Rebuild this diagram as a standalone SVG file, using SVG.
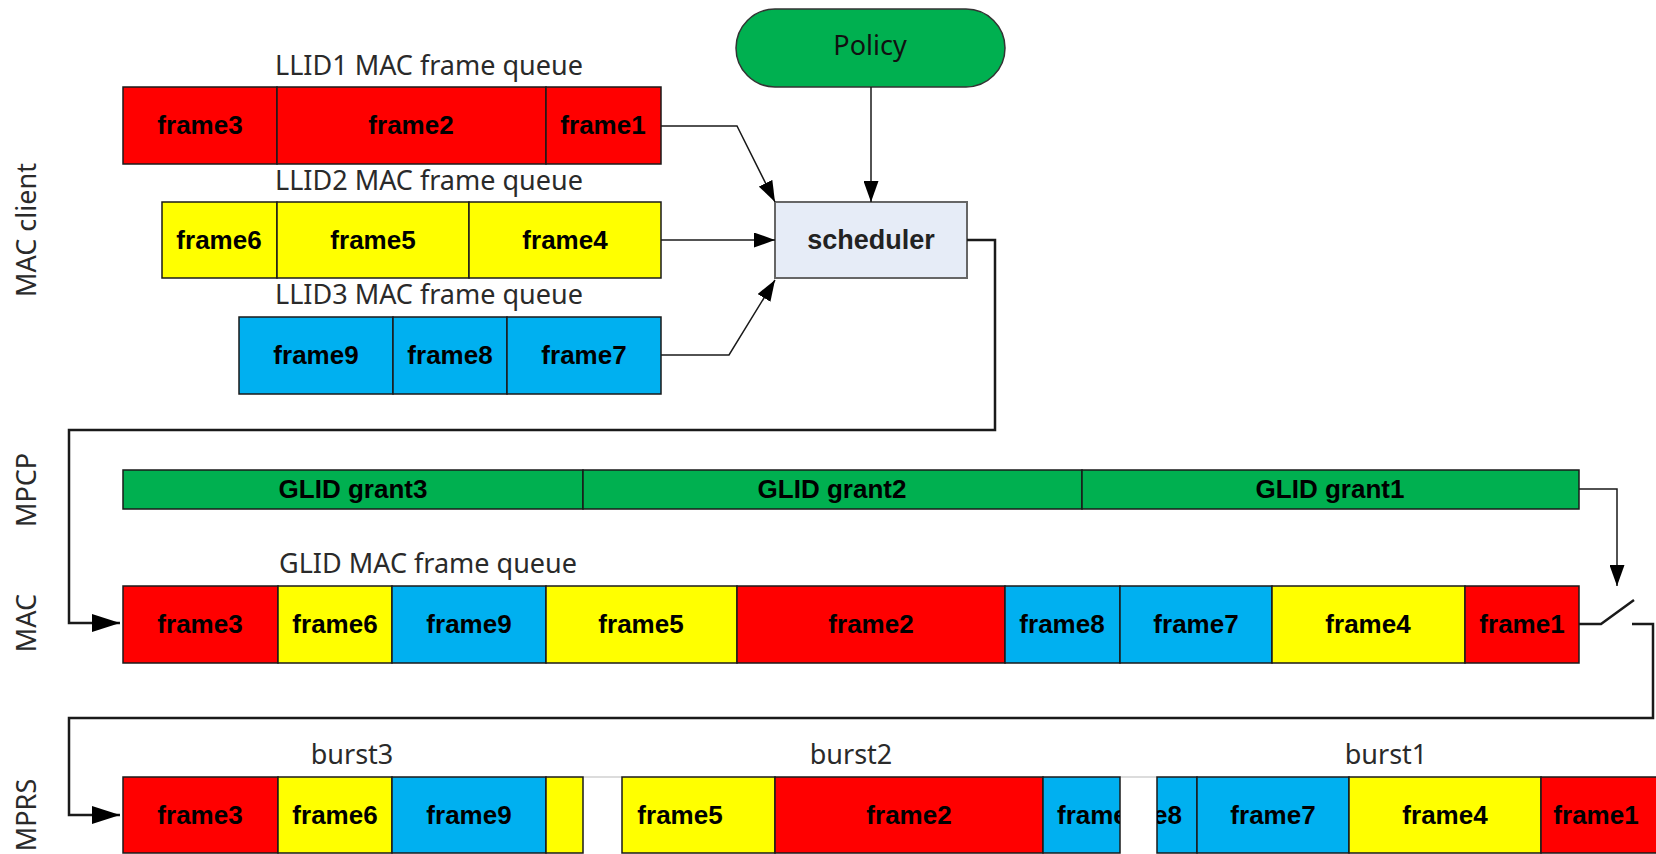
<svg xmlns="http://www.w3.org/2000/svg" width="1656" height="854" viewBox="0 0 1656 854">
<style>
.r{fill:#FF0000}.y{fill:#FFFF00}.b{fill:#00B0F0}.g{fill:#00B050}
.cell{stroke:#1a1a1a;stroke-width:1.5}
.ft{font-family:"Liberation Sans",Arial,sans-serif;font-weight:bold;font-size:26px;text-anchor:middle;fill:#000}
.lbl{font-family:"Noto Sans","Liberation Sans",sans-serif;font-size:27px;fill:#2a2a2a;text-anchor:middle}
.ln{fill:none;stroke:#1a1a1a;stroke-width:1.5}
.thk{fill:none;stroke:#1a1a1a;stroke-width:2.5}
</style>
<defs>
<marker id="ah" markerUnits="userSpaceOnUse" markerWidth="21" markerHeight="15" refX="21" refY="7.5" orient="auto"><path d="M0,0 L21,7.5 L0,15 z" fill="#000"/></marker>
<marker id="ahb" markerUnits="userSpaceOnUse" markerWidth="28" markerHeight="18" refX="28" refY="9" orient="auto"><path d="M0,0 L28,9 L0,18 z" fill="#000"/></marker>
<clipPath id="c8a"><rect x="1043" y="777" width="77" height="77"/></clipPath>
<clipPath id="c8b"><rect x="1157" y="777" width="40" height="77"/></clipPath>
</defs>
<rect width="1656" height="854" fill="#fff"/>

<g id="layer-labels">
<text class="lbl" transform="translate(36,230) rotate(-90)">MAC client</text>
<text class="lbl" transform="translate(36,490) rotate(-90)">MPCP</text>
<text class="lbl" transform="translate(36,623) rotate(-90)">MAC</text>
<text class="lbl" transform="translate(36,815) rotate(-90)">MPRS</text>
</g>

<g id="policy">
<rect x="736" y="9" width="269" height="78" rx="39" fill="#00B050" stroke="#333" stroke-width="1.5"/>
<text class="lbl" x="870" y="55" style="fill:#111">Policy</text>
</g>

<g id="scheduler">
<rect x="775" y="202" width="192" height="76" fill="#E6ECF7" stroke="#666" stroke-width="2"/>
<text class="ft" x="871" y="249" style="font-size:27px;fill:#222">scheduler</text>
</g>

<g id="llid1-queue">
<text class="lbl" x="429" y="75">LLID1 MAC frame queue</text>
<rect class="cell r" x="123" y="87" width="154" height="77"/>
<rect class="cell r" x="277" y="87" width="269" height="77"/>
<rect class="cell r" x="546" y="87" width="115" height="77"/>
<text class="ft" x="200" y="134">frame3</text>
<text class="ft" x="411" y="134">frame2</text>
<text class="ft" x="603" y="134">frame1</text>
</g>

<g id="llid2-queue">
<text class="lbl" x="429" y="190">LLID2 MAC frame queue</text>
<rect class="cell y" x="162" y="202" width="115" height="76"/>
<rect class="cell y" x="277" y="202" width="192" height="76"/>
<rect class="cell y" x="469" y="202" width="192" height="76"/>
<text class="ft" x="219" y="249">frame6</text>
<text class="ft" x="373" y="249">frame5</text>
<text class="ft" x="565" y="249">frame4</text>
</g>

<g id="llid3-queue">
<text class="lbl" x="429" y="304">LLID3 MAC frame queue</text>
<rect class="cell b" x="239" y="317" width="154" height="77"/>
<rect class="cell b" x="393" y="317" width="114" height="77"/>
<rect class="cell b" x="507" y="317" width="154" height="77"/>
<text class="ft" x="316" y="364">frame9</text>
<text class="ft" x="450" y="364">frame8</text>
<text class="ft" x="584" y="364">frame7</text>
</g>

<g id="glid-grants">
<rect class="cell g" x="123" y="470" width="460" height="39"/>
<rect class="cell g" x="583" y="470" width="499" height="39"/>
<rect class="cell g" x="1082" y="470" width="497" height="39"/>
<text class="ft" x="353" y="498">GLID grant3</text>
<text class="ft" x="832" y="498">GLID grant2</text>
<text class="ft" x="1330" y="498">GLID grant1</text>
</g>

<g id="glid-mac-queue">
<text class="lbl" x="428" y="573">GLID MAC frame queue</text>
<rect class="cell r" x="123" y="586" width="155" height="77"/>
<rect class="cell y" x="278" y="586" width="114" height="77"/>
<rect class="cell b" x="392" y="586" width="154" height="77"/>
<rect class="cell y" x="546" y="586" width="191" height="77"/>
<rect class="cell r" x="737" y="586" width="268" height="77"/>
<rect class="cell b" x="1005" y="586" width="115" height="77"/>
<rect class="cell b" x="1120" y="586" width="152" height="77"/>
<rect class="cell y" x="1272" y="586" width="193" height="77"/>
<rect class="cell r" x="1465" y="586" width="114" height="77"/>
<text class="ft" x="200" y="633">frame3</text>
<text class="ft" x="335" y="633">frame6</text>
<text class="ft" x="469" y="633">frame9</text>
<text class="ft" x="641" y="633">frame5</text>
<text class="ft" x="871" y="633">frame2</text>
<text class="ft" x="1062" y="633">frame8</text>
<text class="ft" x="1196" y="633">frame7</text>
<text class="ft" x="1368" y="633">frame4</text>
<text class="ft" x="1522" y="633">frame1</text>
</g>

<g id="mprs-bursts">
<text class="lbl" x="352" y="764">burst3</text>
<text class="lbl" x="851" y="764">burst2</text>
<text class="lbl" x="1386" y="764">burst1</text>
<line x1="583" y1="777" x2="622" y2="777" stroke="#d0d0d0" stroke-width="1.5"/>
<line x1="1120" y1="777" x2="1157" y2="777" stroke="#d0d0d0" stroke-width="1.5"/>
<rect class="cell r" x="123" y="777" width="155" height="76"/>
<rect class="cell y" x="278" y="777" width="114" height="76"/>
<rect class="cell b" x="392" y="777" width="154" height="76"/>
<rect class="cell y" x="546" y="777" width="37" height="76"/>
<rect class="cell y" x="622" y="777" width="153" height="76"/>
<rect class="cell r" x="775" y="777" width="268" height="76"/>
<rect class="cell b" x="1043" y="777" width="77" height="76"/>
<rect class="cell b" x="1157" y="777" width="40" height="76"/>
<rect class="cell b" x="1197" y="777" width="152" height="76"/>
<rect class="cell y" x="1349" y="777" width="192" height="76"/>
<rect class="cell r" x="1541" y="777" width="130" height="76"/>
<text class="ft" x="200" y="824">frame3</text>
<text class="ft" x="335" y="824">frame6</text>
<text class="ft" x="469" y="824">frame9</text>
<text class="ft" x="680" y="824">frame5</text>
<text class="ft" x="909" y="824">frame2</text>
<text class="ft" x="1057" y="824" style="text-anchor:start" clip-path="url(#c8a)">frame</text>
<text class="ft" x="1182" y="824" style="text-anchor:end" clip-path="url(#c8b)">e8</text>
<text class="ft" x="1273" y="824">frame7</text>
<text class="ft" x="1445" y="824">frame4</text>
<text class="ft" x="1596" y="824">frame1</text>
</g>

<g id="connectors">
<path class="ln" d="M871,87 V202" marker-end="url(#ah)"/>
<path class="ln" d="M661,126 H737 L775,202" marker-end="url(#ah)"/>
<path class="ln" d="M661,240 H775" marker-end="url(#ah)"/>
<path class="ln" d="M661,355 H729 L775,280" marker-end="url(#ah)"/>
<path class="thk" d="M967,240 H995 V430 H69 V623 H120" marker-end="url(#ahb)"/>
<path class="ln" d="M1579,489 H1617 V586" marker-end="url(#ah)"/>
<path class="thk" d="M1579,624 H1601 L1634,600"/>
<path class="thk" d="M1632,624 H1653 V718 H69 V815 H120" marker-end="url(#ahb)"/>
</g>
</svg>
